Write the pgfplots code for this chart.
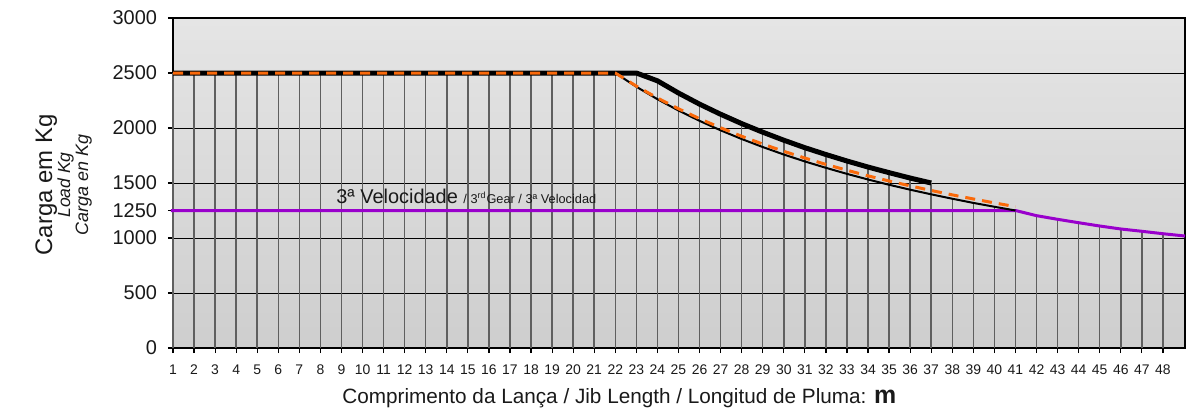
\documentclass[border=0pt]{standalone}
\usepackage{fontspec}
\setmainfont{Liberation Sans}
\usepackage{pgfplots}
\pgfplotsset{compat=1.18}
\definecolor{purp}{RGB}{153,0,204}
\definecolor{orng}{RGB}{250,105,10}
\definecolor{bgtop}{RGB}{229,229,229}
\definecolor{bgbot}{RGB}{206,206,206}
\definecolor{vgrid}{RGB}{95,95,95}
\definecolor{txt}{RGB}{25,25,25}
\begin{document}
\begin{tikzpicture}
\begin{axis}[name=ax, scale only axis, width=506bp, height=165bp,
  xmin=1, xmax=49.05, ymin=0, ymax=3000,
  xtick={1,...,48},
  ytick={0,500,1000,1500,2000,2500,3000},
  extra y ticks={1250}, extra y tick style={grid=none},
  ymajorgrids, grid style={black, line width=0.5bp},
  xtick pos=bottom, ytick pos=left,
  tick align=outside, major tick length=2.5bp,
  tick style={black, line width=0.6bp},
  axis line style={black, line width=1bp},
  axis background/.style={top color=bgtop, bottom color=bgbot},
  scaled y ticks=false,
  /pgf/number format/assume math mode=true,
  /pgf/number format/1000 sep={},
  yticklabel style={font=\fontsize{10}{12}\selectfont, text=txt, xshift=-2bp},
  xticklabel style={font=\fontsize{7}{8}\selectfont, text=txt, anchor=base, yshift=-10.5bp},
  clip=false,
]
% vertical hatching up to the envelope
\addplot[ycomb, vgrid, line width=0.75bp, no markers] coordinates {
(1,2500)(2,2500)(3,2500)(4,2500)(5,2500)(6,2500)(7,2500)(8,2500)(9,2500)(10,2500)
(11,2500)(12,2500)(13,2500)(14,2500)(15,2500)(16,2500)(17,2500)(18,2500)(19,2500)(20,2500)
(21,2500)(22,2500)(23,2500)(24,2429)(25,2318)(26,2217)(27,2125)(28,2040)(29,1962)(30,1889)
(31,1821)(32,1759)(33,1700)(34,1645)(35,1594)(36,1545)(37,1500)(38,1360)(39,1325)(40,1290)
(41,1265)(42,1203)(43,1170)(44,1139)(45,1109)(46,1082)(47,1061)(48,1039)};
% 3rd gear
\addplot[purp, line width=1.5bp, no markers] coordinates {
(0.9,1250)(41,1250)(42,1203)(43,1170)(44,1139)(45,1109)(46,1082)(47,1061)(48,1039)(49.05,1018)};
% thin black curve
\addplot[black, line width=1bp, no markers] coordinates {
(1,2500)(22,2500)(23,2375)(24,2262)(25,2159)(26,2065)(27,1979)(28,1900)(29,1827)(30,1759)
(31,1696)(32,1638)(33,1583)(34,1532)(35,1484)(36,1439)(37,1397)(38,1357)(39,1319)(40,1284)(41,1250)};
% thick black curve
\addplot[black, line width=2.5bp, no markers] coordinates {
(1,2500)(23,2500)(24,2429)(25,2318)(26,2217)(27,2125)(28,2040)(29,1962)(30,1889)
(31,1821)(32,1759)(33,1700)(34,1645)(35,1594)(36,1545)(37,1500)};
% orange dashed curve
\addplot[orng, line width=1.5bp, dash pattern=on 5bp off 3.5bp, no markers] coordinates {
(1,2500)(22,2500)(23,2381)(24,2273)(25,2175)(26,2085)(27,2002)(28,1925)(29,1854)(30,1788)
(31,1727)(32,1669)(33,1616)(34,1565)(35,1518)(36,1474)(37,1432)(38,1392)(39,1355)(40,1319)(41,1285)};
\node[anchor=base west, text=txt, inner sep=0pt, font=\fontsize{10}{12}\selectfont]
  at (axis cs:8.74,1318) {3ª Velocidade {\fontsize{6.4}{7}\selectfont / 3\textsuperscript{rd}Gear / 3ª Velocidad}};
\end{axis}
% axis titles
\node[rotate=90, anchor=base, inner sep=0pt, text=txt, font=\fontsize{12}{14}\selectfont]
  at ([xshift=-60.5bp, yshift=-1bp]ax.west) {Carga em Kg};
\node[rotate=90, anchor=base, inner sep=0pt, text=txt, font=\itshape\fontsize{8.8}{10}\selectfont]
  at ([xshift=-51.5bp, yshift=-1bp]ax.west) {Load Kg};
\node[rotate=90, anchor=base, inner sep=0pt, text=txt, font=\itshape\fontsize{9}{10}\selectfont]
  at ([xshift=-42.5bp, yshift=-1bp]ax.west) {Carga en Kg};
\node[anchor=base west, inner sep=0pt, text=txt, font=\fontsize{10.4}{12}\selectfont]
  at ([xshift=84.5bp, yshift=-27.5bp]ax.south west) {Comprimento da Lança / Jib Length / Longitud de Pluma: {\bfseries\fontsize{12.5}{14}\selectfont m}};
\pgfresetboundingbox
\path ([xshift=-86.5bp,yshift=-33bp]ax.south west) rectangle ([xshift=5bp,yshift=9bp]ax.north east);
\end{tikzpicture}
\end{document}
